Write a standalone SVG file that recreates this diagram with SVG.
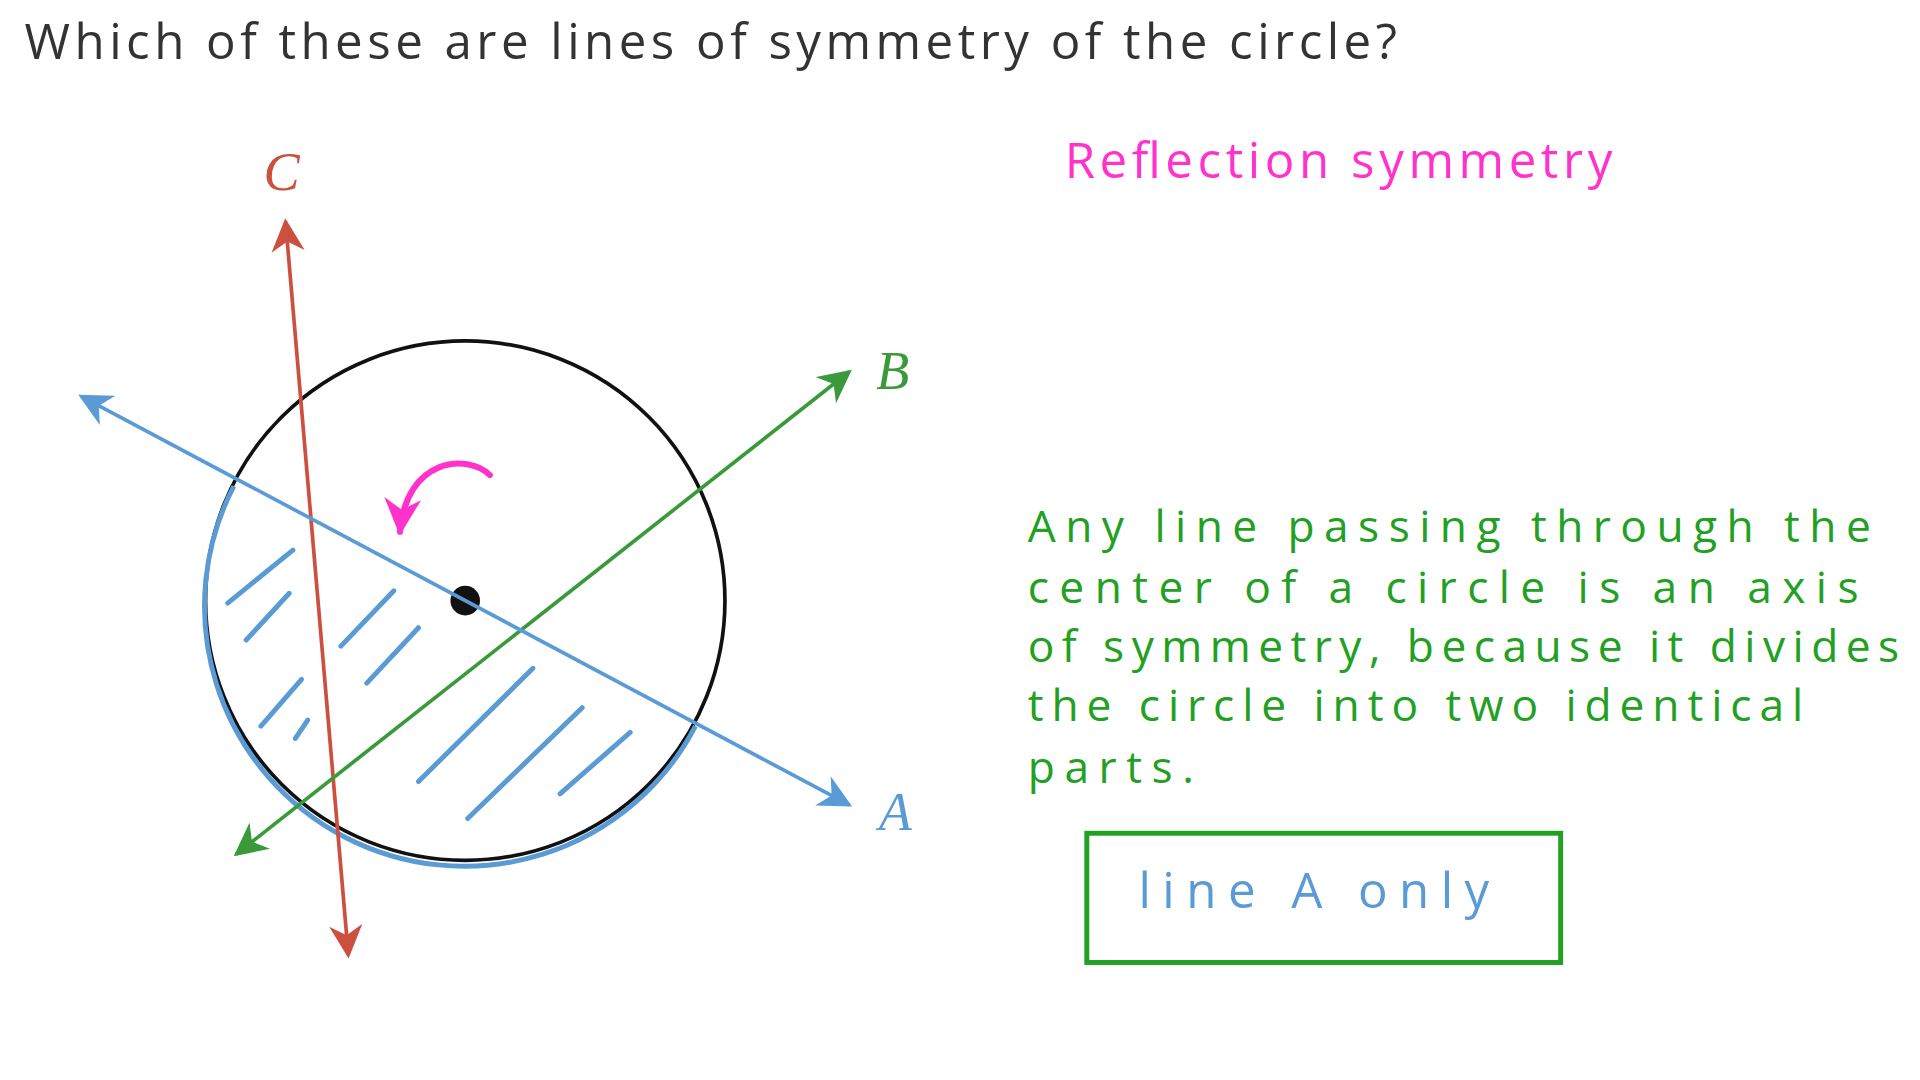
<svg xmlns="http://www.w3.org/2000/svg" width="1920" height="1080" viewBox="0 0 1920 1080">
<defs>
<style>
.hw{font-family:"Open Sans","Liberation Sans",sans-serif;font-size:40px}
.pg{font-family:"Open Sans","Liberation Sans",sans-serif;font-size:36px}
.lbl{font-family:"Liberation Serif",serif;font-style:italic;font-size:44px}
.hatch{stroke:#5b9bd5;stroke-width:4;stroke-linecap:round;fill:none}
</style>
<marker id="arR" viewBox="0 0 10 10" refX="9" refY="5" markerWidth="9" markerHeight="9" orient="auto-start-reverse"><path d="M0,0 L10,5 L0,10 L3,5 Z" fill="#cc5040"/></marker>
<marker id="arG" viewBox="0 0 10 10" refX="9" refY="5" markerWidth="9" markerHeight="9" orient="auto-start-reverse"><path d="M0,0 L10,5 L0,10 L3,5 Z" fill="#3a9a3a"/></marker>
<marker id="arB" viewBox="0 0 10 10" refX="9" refY="5" markerWidth="9" markerHeight="9" orient="auto-start-reverse"><path d="M0,0 L10,5 L0,10 L3,5 Z" fill="#5b9bd5"/></marker>
<marker id="arM" viewBox="0 0 10 10" refX="9" refY="5" markerWidth="6" markerHeight="6" orient="auto"><path d="M0,0 L10,5 L0,10 L3,5 Z" fill="#ff33cc"/></marker>
</defs>
<rect width="1920" height="1080" fill="#fff"/>
<g transform="scale(1.2308)">
<text class="hw" x="20" y="48" fill="#333" textLength="1115" lengthAdjust="spacing">Which of these are lines of symmetry of the circle?</text>
<g id="circle">
<circle cx="378" cy="488" r="211" fill="none" stroke="#111" stroke-width="3"/>
<path d="M190,395 A211,211 0 0 0 565,590" fill="none" stroke="#5b9bd5" stroke-width="4"/>
<circle cx="378" cy="488" r="12" fill="#111"/>
<path class="hatch" d="M185,490 L238,447 M200,520 L235,482 M277,525 L320,480 M298,555 L340,510 M212,590 L245,552 M240,600 L250,585 M340,635 L433,543 M380,665 L473,575 M455,645 L512,595"/>
</g>
<g id="connectors">
<line x1="283" y1="776" x2="232" y2="180" stroke="#cc5040" stroke-width="3" marker-start="url(#arR)" marker-end="url(#arR)"/>
<line x1="192" y1="694" x2="690" y2="302" stroke="#3a9a3a" stroke-width="3" marker-start="url(#arG)" marker-end="url(#arG)"/>
<line x1="66" y1="322" x2="690" y2="654" stroke="#5b9bd5" stroke-width="3" marker-start="url(#arB)" marker-end="url(#arB)"/>
<path d="M398,386 C380,368 330,372 325,432" fill="none" stroke="#ff33cc" stroke-width="5" stroke-linecap="round" marker-end="url(#arM)"/>
</g>
<text class="lbl" x="214" y="154" fill="#cc5040">C</text>
<text class="lbl" x="712" y="316" fill="#3a9a3a">B</text>
<text class="lbl" x="714" y="674" fill="#5b9bd5">A</text>
<text class="hw" x="865" y="145" fill="#ff33cc" textLength="445" lengthAdjust="spacing">Reflection symmetry</text>
<g id="explain" fill="#22a022">
<text class="pg" x="835" y="440" textLength="685" lengthAdjust="spacing">Any line passing through the</text>
<text class="pg" x="835" y="490" textLength="675" lengthAdjust="spacing">center of a circle is an axis</text>
<text class="pg" x="835" y="538" textLength="708" lengthAdjust="spacing">of symmetry, because it divides</text>
<text class="pg" x="835" y="586" textLength="630" lengthAdjust="spacing">the circle into two identical</text>
<text class="pg" x="835" y="636" textLength="135" lengthAdjust="spacing">parts.</text>
</g>
<g id="answer">
<rect x="883" y="677" width="385" height="105" fill="none" stroke="#22a022" stroke-width="4"/>
<text class="hw" x="925" y="738" fill="#5b9bd5" textLength="285" lengthAdjust="spacing">line A only</text>
</g>
</g>
</svg>
